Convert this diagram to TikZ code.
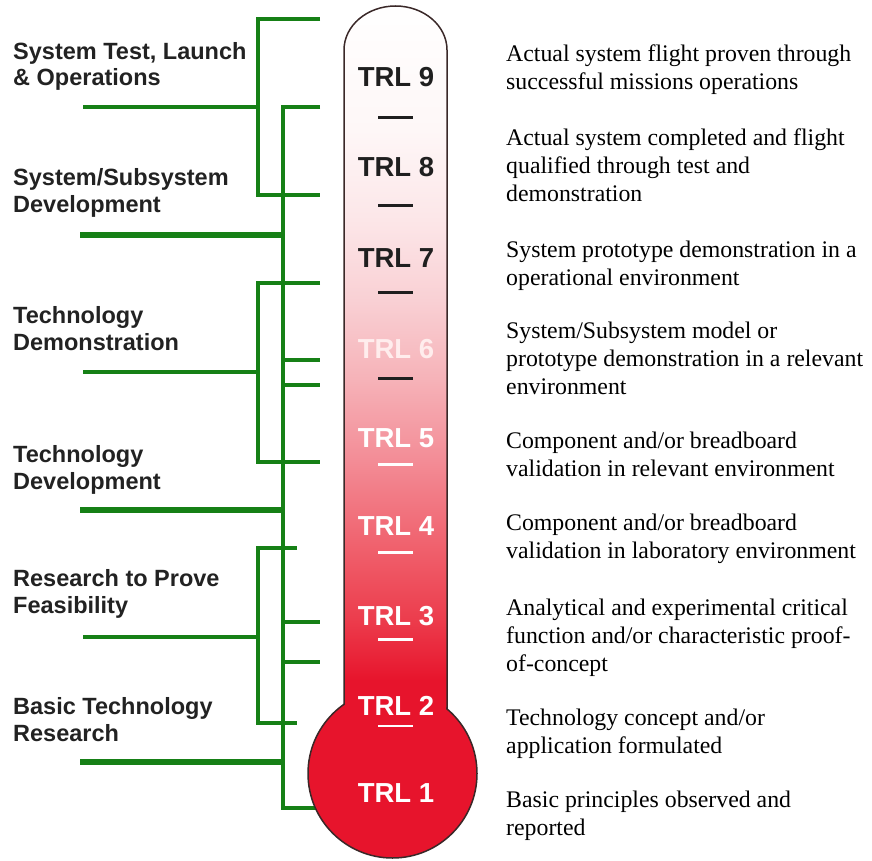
\documentclass[tikz,border=0pt]{standalone}
\usepackage{fontspec}
\setmainfont{Liberation Serif}
\newfontfamily\headfont{Liberation Sans}

\definecolor{trlgreen}{RGB}{22,128,22}
\definecolor{labelgray}{RGB}{34,34,34}
\definecolor{bulbred}{RGB}{231,20,44}
\definecolor{rimline}{RGB}{58,40,40}
% tube colour stops, top to bottom
\definecolor{t0}{RGB}{255,255,255}
\definecolor{t1}{RGB}{254,247,247}
\definecolor{t2}{RGB}{252,230,232}
\definecolor{t3}{RGB}{249,208,212}
\definecolor{t4}{RGB}{246,178,184}
\definecolor{t5}{RGB}{243,140,150}
\definecolor{t6}{RGB}{240,100,112}
\definecolor{t7}{RGB}{236,60,76}
\definecolor{t8}{RGB}{231,20,44}

\begin{document}
\begin{tikzpicture}[x=1pt,y=-1pt,
  bar/.style={draw=trlgreen, line width=4pt, line join=miter, line cap=butt},
  thickbar/.style={bar, line width=6.5pt},
  % multi-line nodes: the base anchor sits on the last line
  phase/.style={anchor=base west, inner sep=0pt, align=left, text=labelgray,
    font=\headfont\bfseries\fontsize{23.5}{26.5}\selectfont},
  desc/.style={anchor=base west, inner sep=0pt, align=left,
    font=\fontsize{23.8}{28}\selectfont},
  trl/.style={anchor=base, inner sep=0pt,
    font=\headfont\bfseries\fontsize{27.5}{30}\selectfont},
  darktrl/.style={trl, text=black!88},
  lighttrl/.style={trl, text=white},
  sep/.style={line width=3pt, line cap=butt},
  rim/.style={draw=rimline, line width=1.5pt},
]
\useasboundingbox (0,0) rectangle (872,861);

% ---------- phase brackets ----------
% outer spine brackets
\draw[bar] (320,19) -- (258,19) -- (258,195) -- (320,195);
\draw[bar] (320,283) -- (258,283) -- (258,462) -- (320,462);
\draw[bar] (297,548) -- (258,548) -- (258,723) -- (297,723);
% inner spine with its ticks
\draw[bar] (320,107) -- (283,107) -- (283,808) -- (330,808);
\draw[bar] (283,360) -- (320,360);
\draw[bar] (283,385) -- (320,385);
\draw[bar] (283,622) -- (320,622);
\draw[bar] (283,662) -- (320,662);

% junctions on the spines
\coordinate (j1) at (258,107);
\coordinate (j2) at (283,235);
\coordinate (j3) at (258,372);
\coordinate (j4) at (283,510);
\coordinate (j5) at (258,637);
\coordinate (j6) at (283,762);
% free ends of the label strokes
\coordinate (e1) at (83,107);
\coordinate (e2) at (80,235);
\coordinate (e3) at (83,372);
\coordinate (e4) at (80,510);
\coordinate (e5) at (83,637);
\coordinate (e6) at (80,762);

\draw[bar] (e1) -- (j1);
\draw[thickbar] (e2) -- (j2);
\draw[bar] (e3) -- (j3);
\draw[thickbar] (e4) -- (j4);
\draw[bar] (e5) -- (j5);
\draw[thickbar] (e6) -- (j6);

% phase labels
\node[phase] (ph1) at (13,86)  {System Test, Launch\\\& Operations};
\node[phase] (ph2) at (13,212) {System/Subsystem\\Development};
\node[phase] (ph3) at (13,350) {Technology\\Demonstration};
\node[phase] (ph4) at (13,489) {Technology\\Development};
\node[phase] (ph5) at (13,613) {Research to Prove\\Feasibility};
\node[phase] (ph6) at (13,741) {Basic Technology\\Research};

% ---------- thermometer ----------
\begin{scope}
  \clip (344,716) -- (344,50) .. controls (344,25.7) and (367.1,6) .. (395.5,6)
        .. controls (423.9,6) and (447,25.7) .. (447,50) -- (447,716) -- cycle;
  \shade[top color=t0, bottom color=t1] (340,0)   rectangle (450,130.6);
  \shade[top color=t1, bottom color=t2] (340,130) rectangle (450,220.6);
  \shade[top color=t2, bottom color=t3] (340,220) rectangle (450,300.6);
  \shade[top color=t3, bottom color=t4] (340,300) rectangle (450,380.6);
  \shade[top color=t4, bottom color=t5] (340,380) rectangle (450,460.6);
  \shade[top color=t5, bottom color=t6] (340,460) rectangle (450,540.6);
  \shade[top color=t6, bottom color=t7] (340,540) rectangle (450,620.6);
  \shade[top color=t7, bottom color=t8] (340,620) rectangle (450,680.6);
  \fill[t8] (340,680) rectangle (450,720);
\end{scope}
\draw[rim] (344,706) -- (344,50) .. controls (344,25.7) and (367.1,6) .. (395.5,6)
      .. controls (423.9,6) and (447,25.7) .. (447,50) -- (447,710);

% bulb
\fill[bulbred] (392.5,773.5) circle[radius=84.5];
\draw[rim] (392.5,773.5) circle[radius=84.5];
\fill[bulbred] (345.3,680) rectangle (445.7,716);

% level names
\node[darktrl]  (trl9) at (396,87)  {TRL 9};
\node[darktrl]  (trl8) at (396,177) {TRL 8};
\node[darktrl]  (trl7) at (396,267) {TRL 7};
\node[trl, text=white!93!red] (trl6) at (396,358) {TRL 6};
\node[lighttrl] (trl5) at (396,447) {TRL 5};
\node[lighttrl] (trl4) at (396,535) {TRL 4};
\node[lighttrl] (trl3) at (396,625) {TRL 3};
\node[lighttrl] (trl2) at (396,715) {TRL 2};
\node[lighttrl] (trl1) at (396,802) {TRL 1};

% separators between levels
\draw[sep, black!88] (378,118) -- (413,118);
\draw[sep, black!88] (378,205) -- (413,205);
\draw[sep, black!88] (378,292) -- (413,292);
\draw[sep, black!88] (378,378) -- (413,378);
\draw[sep, white] (378,464) -- (413,464);
\draw[sep, white] (378,552) -- (413,552);
\draw[sep, white] (378,639) -- (413,639);
\draw[sep, white, line width=2pt] (378,726) -- (413,726);

% ---------- level descriptions ----------
\node[desc] (d9) at (506,90)  {Actual system flight proven through\\successful missions operations};
\node[desc] (d8) at (506,201) {Actual system completed and flight\\qualified through test and\\demonstration};
\node[desc] (d7) at (506,285) {System prototype demonstration in a\\operational environment};
\node[desc] (d6) at (506,394) {System/Subsystem model or\\prototype demonstration in a relevant\\environment};
\node[desc] (d5) at (506,476) {Component and/or breadboard\\validation in relevant environment};
\node[desc] (d4) at (506,558) {Component and/or breadboard\\validation in laboratory environment};
\node[desc] (d3) at (506,671) {Analytical and experimental critical\\function and/or characteristic proof-\\of-concept};
\node[desc] (d2) at (506,753) {Technology concept and/or\\application formulated};
\node[desc] (d1) at (506,835) {Basic principles observed and\\reported};
\end{tikzpicture}
\end{document}
